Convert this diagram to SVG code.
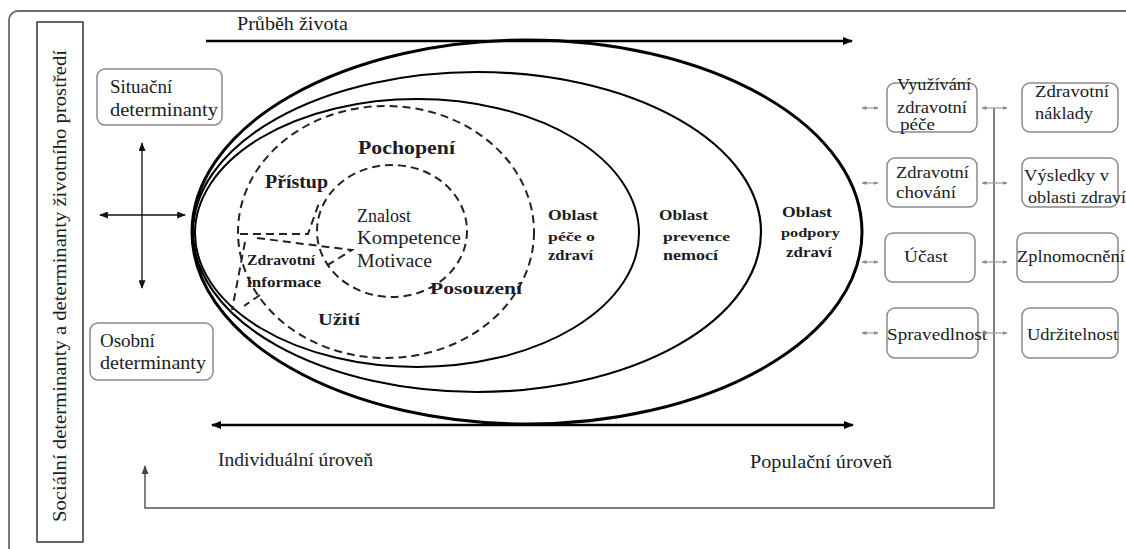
<svg xmlns="http://www.w3.org/2000/svg" width="1126" height="549" viewBox="0 0 1126 549">
<defs>
<style>
text{font-family:"Liberation Serif","Times New Roman",serif;fill:#1c1c24}
.b{font-weight:bold}
.box{fill:#fff;stroke:#8a8a8a;stroke-width:1.5}
.sol{fill:none;stroke:#000}
.dash{fill:none;stroke:#222;stroke-width:2;stroke-dasharray:8 5}
.thin{fill:none;stroke:#111;stroke-width:1.3}
.gr{fill:none;stroke:#999;stroke-width:1.2}
</style>
<marker id="ah" viewBox="0 0 10 8" refX="9" refY="4" markerWidth="10" markerHeight="8" markerUnits="userSpaceOnUse" orient="auto-start-reverse"><path d="M0,0 L10,4 L0,8 z" fill="#000"/></marker>
<marker id="ahs" viewBox="0 0 10 8" refX="9" refY="4" markerWidth="9" markerHeight="7" markerUnits="userSpaceOnUse" orient="auto-start-reverse"><path d="M0,0 L10,4 L0,8 z" fill="#111"/></marker>
<marker id="ahg" viewBox="0 0 10 8" refX="9" refY="4" markerWidth="5" markerHeight="4" markerUnits="userSpaceOnUse" orient="auto-start-reverse"><path d="M0,0 L10,4 L0,8 z" fill="#888"/></marker>
<marker id="ahl" viewBox="0 0 10 8" refX="9" refY="4" markerWidth="9" markerHeight="7" markerUnits="userSpaceOnUse" orient="auto-start-reverse"><path d="M0,0 L10,4 L0,8 z" fill="#444"/></marker>
</defs>
<rect width="1126" height="549" fill="#fff"/>
<rect x="9" y="11" width="1140" height="570" rx="9" fill="none" stroke="#6a6a6a" stroke-width="1.8"/>

<g id="left-box">
<rect x="37" y="22" width="46" height="520" fill="none" stroke="#333" stroke-width="1.5"/>
<text transform="translate(66,522) rotate(-90)" font-size="19" textLength="472" lengthAdjust="spacingAndGlyphs">Sociální determinanty a determinanty životního prostředí</text>
</g>

<g id="situacni">
<rect class="box" x="97" y="69" width="125" height="56" rx="8"/>
<text x="110" y="93" font-size="19">Situační</text>
<text x="110" y="116" font-size="19" textLength="108" lengthAdjust="spacingAndGlyphs">determinanty</text>
</g>
<g id="osobni">
<rect class="box" x="90" y="323" width="123" height="57" rx="8"/>
<text x="100" y="347" font-size="19">Osobní</text>
<text x="100" y="369" font-size="19" textLength="106" lengthAdjust="spacingAndGlyphs">determinanty</text>
</g>

<g id="ellipses">
<ellipse class="sol" cx="527" cy="232" rx="335" ry="192" stroke-width="3"/>
<ellipse class="sol" cx="477" cy="232" rx="284" ry="160" stroke-width="2.2"/>
<ellipse class="sol" cx="417" cy="233" rx="222" ry="134" stroke-width="2"/>
<ellipse class="dash" cx="386" cy="232" rx="148" ry="126"/>
<ellipse class="dash" cx="392" cy="231" rx="75" ry="66"/>
<path class="dash" d="M240,234 L308,234 L320,200"/>
<path class="dash" d="M257,238 L352,250 L326,266"/>
<path class="dash" d="M245,242 L232,310"/>
<path class="dash" d="M260,295 L244,306"/>
</g>

<g id="labels">
<text x="358" y="154" font-size="18" class="b" textLength="97" lengthAdjust="spacingAndGlyphs">Pochopení</text>
<text x="265" y="188" font-size="18" class="b" textLength="63" lengthAdjust="spacingAndGlyphs">Přístup</text>
<text x="357" y="222" font-size="18">Znalost</text>
<text x="357" y="244" font-size="18" textLength="104" lengthAdjust="spacingAndGlyphs">Kompetence</text>
<text x="357" y="267" font-size="18" textLength="75" lengthAdjust="spacingAndGlyphs">Motivace</text>
<text x="247" y="265" font-size="15" class="b" textLength="68" lengthAdjust="spacingAndGlyphs">Zdravotní</text>
<text x="247" y="287" font-size="15" class="b" textLength="74" lengthAdjust="spacingAndGlyphs">informace</text>
<text x="430" y="294" font-size="17" class="b" textLength="92" lengthAdjust="spacingAndGlyphs">Posouzení</text>
<text x="318" y="325" font-size="17" class="b" textLength="42" lengthAdjust="spacingAndGlyphs">Užití</text>
<text x="548" y="220" font-size="15" class="b" textLength="50" lengthAdjust="spacingAndGlyphs">Oblast</text>
<text x="548" y="241" font-size="13" class="b" textLength="47" lengthAdjust="spacingAndGlyphs">péče o</text>
<text x="548" y="260" font-size="14" class="b" textLength="45" lengthAdjust="spacingAndGlyphs">zdraví</text>
<text x="659" y="220" font-size="15" class="b" textLength="49" lengthAdjust="spacingAndGlyphs">Oblast</text>
<text x="663" y="241" font-size="13" class="b" textLength="67" lengthAdjust="spacingAndGlyphs">prevence</text>
<text x="663" y="260" font-size="14" class="b" textLength="55" lengthAdjust="spacingAndGlyphs">nemocí</text>
<text x="782" y="217" font-size="15" class="b" textLength="50" lengthAdjust="spacingAndGlyphs">Oblast</text>
<text x="781" y="237" font-size="13" class="b" textLength="59" lengthAdjust="spacingAndGlyphs">podpory</text>
<text x="786" y="257" font-size="14" class="b" textLength="46" lengthAdjust="spacingAndGlyphs">zdraví</text>
<text x="237" y="30" font-size="19" textLength="111" lengthAdjust="spacingAndGlyphs">Průběh života</text>
<text x="218" y="466" font-size="18" textLength="155" lengthAdjust="spacingAndGlyphs">Individuální úroveň</text>
<text x="750" y="468" font-size="18" textLength="142" lengthAdjust="spacingAndGlyphs">Populační úroveň</text>
</g>

<g id="right-col1">
<g id="vyuzivani"><rect class="box" x="887" y="83" width="90" height="49" rx="8"/>
<text x="897" y="90" font-size="16" textLength="74" lengthAdjust="spacingAndGlyphs">Využívání</text>
<text x="897" y="113" font-size="17" textLength="70" lengthAdjust="spacingAndGlyphs">zdravotní</text>
<text x="900" y="130" font-size="16" textLength="35" lengthAdjust="spacingAndGlyphs">péče</text></g>
<g id="chovani"><rect class="box" x="887" y="158" width="90" height="49" rx="8"/>
<text x="896" y="178" font-size="17" textLength="73" lengthAdjust="spacingAndGlyphs">Zdravotní</text>
<text x="896" y="198" font-size="17" textLength="60" lengthAdjust="spacingAndGlyphs">chování</text></g>
<g id="ucast"><rect class="box" x="885" y="233" width="90" height="49" rx="8"/>
<text x="904" y="262" font-size="17" textLength="44" lengthAdjust="spacingAndGlyphs">Účast</text></g>
<g id="spravedlnost"><rect class="box" x="887" y="308" width="91" height="50" rx="8"/>
<text x="887" y="340" font-size="17" textLength="100" lengthAdjust="spacingAndGlyphs">Spravedlnost</text></g>
</g>

<g id="right-col2">
<g id="naklady"><rect class="box" x="1022" y="83" width="96" height="49" rx="8"/>
<text x="1035" y="97" font-size="17" textLength="74" lengthAdjust="spacingAndGlyphs">Zdravotní</text>
<text x="1035" y="119" font-size="17" textLength="58" lengthAdjust="spacingAndGlyphs">náklady</text></g>
<g id="vysledky"><rect class="box" x="1022" y="158" width="96" height="49" rx="8"/>
<text x="1024" y="181" font-size="17" textLength="85" lengthAdjust="spacingAndGlyphs">Výsledky v</text>
<text x="1028" y="203" font-size="17" textLength="98" lengthAdjust="spacingAndGlyphs">oblasti zdraví</text></g>
<g id="zplnomocneni"><rect class="box" x="1017" y="233" width="101" height="49" rx="8"/>
<text x="1017" y="262" font-size="17" textLength="108" lengthAdjust="spacingAndGlyphs">Zplnomocnění</text></g>
<g id="udrzitelnost"><rect class="box" x="1022" y="308" width="96" height="50" rx="8"/>
<text x="1027" y="340" font-size="17" textLength="91" lengthAdjust="spacingAndGlyphs">Udržitelnost</text></g>
</g>

<g id="connectors">
<line x1="206" y1="41" x2="852" y2="41" stroke="#000" stroke-width="2.6" marker-end="url(#ah)"/>
<line x1="212" y1="425" x2="853" y2="425" stroke="#000" stroke-width="2.6" marker-start="url(#ah)" marker-end="url(#ah)"/>
<line class="thin" x1="142" y1="143" x2="142" y2="288" marker-start="url(#ahs)" marker-end="url(#ahs)"/>
<line class="thin" x1="100" y1="215" x2="185" y2="215" marker-start="url(#ahs)" marker-end="url(#ahs)"/>
<polyline fill="none" stroke="#555" stroke-width="1.5" points="994,108 994,508 145,508 145,466" marker-end="url(#ahl)"/>
<line class="gr" x1="862" y1="108" x2="878" y2="108" marker-start="url(#ahg)" marker-end="url(#ahg)"/>
<line class="gr" x1="862" y1="183" x2="878" y2="183" marker-start="url(#ahg)" marker-end="url(#ahg)"/>
<line class="gr" x1="862" y1="262" x2="878" y2="262" marker-start="url(#ahg)" marker-end="url(#ahg)"/>
<line class="gr" x1="862" y1="333" x2="878" y2="333" marker-start="url(#ahg)" marker-end="url(#ahg)"/>
<line class="gr" x1="982" y1="108" x2="1007" y2="108" marker-start="url(#ahg)" marker-end="url(#ahg)"/>
<line class="gr" x1="982" y1="183" x2="1007" y2="183" marker-start="url(#ahg)" marker-end="url(#ahg)"/>
<line class="gr" x1="982" y1="262" x2="1007" y2="262" marker-start="url(#ahg)" marker-end="url(#ahg)"/>
<line class="gr" x1="982" y1="333" x2="1007" y2="333" marker-start="url(#ahg)" marker-end="url(#ahg)"/>
</g>
</svg>
